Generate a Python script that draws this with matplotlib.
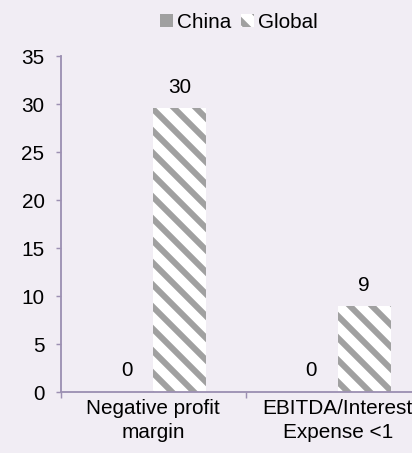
import numpy as np
import matplotlib.pyplot as plt
from matplotlib.patches import Patch

categories = ['Negative profit\nmargin', 'EBITDA/Interest\nExpense <1']
china = [0, 0]
global_vals = [29.6, 9]
china_labels = ['0', '0']
global_labels = ['30', '9']
yticks = [0, 5, 10, 15, 20, 25, 30, 35]

# dpi chosen so that the hatch spacing matches the reference
dpi = 132
W, H = 412, 453
bg = '#f1edf4'
axcol = '#9c90b2'
fs = 11.3
plt.rcParams['font.family'] = ['Liberation Sans', 'DejaVu Sans']
plt.rcParams['hatch.linewidth'] = 3.3
plt.rcParams['hatch.color'] = '#a0a0a0'

fig = plt.figure(figsize=(W/dpi, H/dpi), dpi=dpi, facecolor=bg)
ax = fig.add_axes([61/W, (H-392)/H, 369/W, 336/H], facecolor=bg)

x = np.arange(len(categories))
w = 0.287
ax.bar(x - w/2, china, w, color='#a0a0a0')
ax.bar(x + w/2, global_vals, w, facecolor='white', hatch='\\\\', edgecolor='#a0a0a0', linewidth=0)

for i in range(len(x)):
  ax.annotate(china_labels[i], (x[i] - w/2, china[i]), xytext=(0, 12), textcoords='offset points',
              ha='center', va='center', fontsize=fs)
  ax.annotate(global_labels[i], (x[i] + w/2, global_vals[i]), xytext=(0, 11), textcoords='offset points',
              ha='center', va='center', fontsize=fs)

ax.set_xlim(-0.5, 1.5)
ax.set_ylim(0, 35)
ax.set_yticks(yticks)
ax.set_xticks(x)
ax.set_xticklabels(categories, fontsize=fs, linespacing=1.3)
ax.set_xticks([-0.5, 0.5, 1.5], minor=True)
ax.tick_params(axis='x', which='major', length=0, pad=4)
ax.tick_params(axis='x', which='minor', length=3, width=0.8, color=axcol)
ax.tick_params(axis='y', length=3, width=0.8, color=axcol, labelsize=fs, pad=6)
for s in ['top', 'right']:
  ax.spines[s].set_visible(False)
for s in ['left', 'bottom']:
  ax.spines[s].set_color(axcol)
  ax.spines[s].set_linewidth(1.0)

handles = [Patch(facecolor='#a0a0a0', label='China'),
           Patch(facecolor='white', hatch='\\\\', edgecolor='#a0a0a0', linewidth=0, label='Global')]
fig.legend(handles=handles, loc='center', bbox_to_anchor=(239/W, 1 - 22/H), ncol=2, frameon=False,
           fontsize=fs, handlelength=0.6, handleheight=0.6, handletextpad=0.2, columnspacing=0.5)

plt.savefig('out.png', dpi=dpi, facecolor=bg)
